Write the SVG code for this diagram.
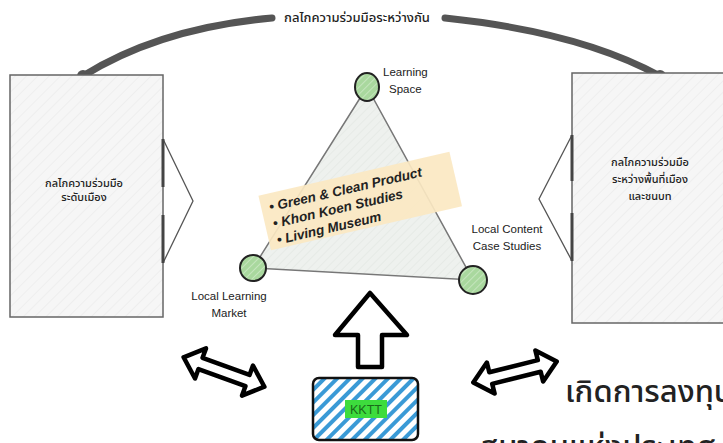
<svg xmlns="http://www.w3.org/2000/svg" width="723" height="443" viewBox="0 0 723 443">
<defs>
<pattern id="hatchGray" patternUnits="userSpaceOnUse" width="8" height="8" patternTransform="rotate(45)">
<rect width="8" height="8" fill="#f6f6f6"/>
<line x1="0" y1="0" x2="0" y2="8" stroke="#e6e6e6" stroke-width="1"/>
</pattern>
<pattern id="hatchTri" patternUnits="userSpaceOnUse" width="6" height="6" patternTransform="rotate(45)">
<rect width="6" height="6" fill="#eef1ee"/>
<line x1="0" y1="0" x2="0" y2="6" stroke="#dfe4df" stroke-width="1"/>
</pattern>
<pattern id="hatchGreen" patternUnits="userSpaceOnUse" width="5" height="5" patternTransform="rotate(45)">
<rect width="5" height="5" fill="#a9d89e"/>
<line x1="0" y1="0" x2="0" y2="5" stroke="#cfeac8" stroke-width="1.5"/>
</pattern>
<pattern id="hatchBlue" patternUnits="userSpaceOnUse" width="9" height="9" patternTransform="rotate(45)">
<rect width="9" height="9" fill="#ffffff"/>
<line x1="0" y1="0" x2="0" y2="9" stroke="#3a9ad6" stroke-width="8"/>
</pattern>
</defs>
<style>
.box{fill:url(#hatchGray);stroke:#666;stroke-width:1.5}
.ptr{fill:none;stroke:#555;stroke-width:1.3}
.edge{fill:none;stroke:#444;stroke-width:3}
.arc{fill:none;stroke:#555;stroke-width:7;stroke-linecap:round}
.dot{fill:#555}
.th{font-family:"Noto Sans","Noto Sans Thai","DejaVu Sans",sans-serif;fill:#222}
.lbl{font-family:"Liberation Sans","DejaVu Sans",sans-serif;font-size:11.5px;fill:#222}
.node{fill:url(#hatchGreen);stroke:#222;stroke-width:2}
.blk{fill:#fff;stroke:#000;stroke-width:4.5;stroke-linejoin:round}
.note{font-family:"Liberation Sans","DejaVu Sans",sans-serif;font-size:13.5px;font-style:italic;font-weight:bold;fill:#222}
</style>

<g id="connectors">
<path class="arc" d="M83,76 Q160,28 272,18"/>
<path class="arc" d="M445,18 Q580,32 660,76"/>
<circle class="dot" cx="83" cy="76" r="6"/>
<circle class="dot" cx="660" cy="76" r="6"/>
<text class="th" x="357" y="22" font-size="13" font-weight="500" text-anchor="middle">กลไกความร่วมมือระหว่างกัน</text>
<path class="blk" d="M370,293 L407,335 L382,335 L382,367 L358,367 L358,335 L335,335 Z"/>
<path class="blk" transform="translate(224,372) rotate(20)" d="M-43,0 L-25,-16 L-25,-6 L25,-6 L25,-16 L43,0 L25,16 L25,6 L-25,6 L-25,16 Z"/>
<path class="blk" transform="translate(515,372) rotate(-14)" d="M-43,0 L-25,-16 L-25,-6 L25,-6 L25,-16 L43,0 L25,16 L25,6 L-25,6 L-25,16 Z"/>
</g>

<g id="left-box">
<rect class="box" x="10" y="75" width="153" height="242"/>
<path class="ptr" d="M163,139 L193,201 L163,263"/>
<path class="edge" d="M163,139 L163,187 M163,215 L163,263"/>
<text class="th" font-size="11" font-weight="500" text-anchor="middle"><tspan x="84" y="187">กลไกความร่วมมือ</tspan><tspan x="84" y="201">ระดับเมือง</tspan></text>
</g>

<g id="right-box">
<rect class="box" x="572" y="73" width="160" height="250"/>
<path class="ptr" d="M572,135 L539,199 L572,261"/>
<path class="edge" d="M572,135 L572,181 M572,213 L572,261"/>
<text class="th" font-size="11" font-weight="500" text-anchor="middle"><tspan x="650" y="166">กลไกความร่วมมือ</tspan><tspan x="650" y="183">ระหว่างพื้นที่เมือง</tspan><tspan x="650" y="200">และชนบท</tspan></text>
</g>

<g id="triangle">
<polygon points="367,87 253,268 473,280" fill="url(#hatchTri)" stroke="#777" stroke-width="1.5"/>
</g>

<g id="learning-space">
<ellipse class="node" cx="367" cy="87" rx="12" ry="14"/>
<text class="lbl"><tspan x="383" y="76">Learning</tspan><tspan x="389" y="93">Space</tspan></text>
</g>

<g id="local-learning-market">
<circle class="node" cx="253" cy="268" r="13"/>
<text class="lbl" text-anchor="middle"><tspan x="229" y="300">Local Learning</tspan><tspan x="229" y="317">Market</tspan></text>
</g>

<g id="local-content">
<circle class="node" cx="473" cy="280" r="14"/>
<text class="lbl" text-anchor="middle"><tspan x="507" y="233">Local Content</tspan><tspan x="507" y="250">Case Studies</tspan></text>
</g>

<g id="note" transform="translate(360,200) rotate(-13)">
<rect x="-98" y="-27" width="196" height="56" fill="#fbe8c2" opacity="0.92"/>
<text class="note"><tspan x="-90" y="-9">• Green &amp; Clean Product</tspan><tspan x="-90" y="8">• Khon Koen Studies</tspan><tspan x="-90" y="25">• Living Museum</tspan></text>
</g>

<g id="kktt">
<rect x="313" y="378" width="105" height="62" rx="6" fill="url(#hatchBlue)" stroke="#111" stroke-width="2.5"/>
<rect x="345" y="400" width="42" height="18" fill="#3ddc3d"/>
<text x="366" y="414" font-family="Liberation Sans,sans-serif" font-size="12.5" text-anchor="middle" fill="#1a6a1a">KKTT</text>
</g>

<g id="caption">
<text class="th" x="565" y="402" font-size="31" font-weight="500" fill="#111">เกิดการลงทุน</text>
<text class="th" x="480" y="457" font-size="31" font-weight="500" fill="#111">สมาคมแห่งประเทศ</text>
</g>
</svg>
